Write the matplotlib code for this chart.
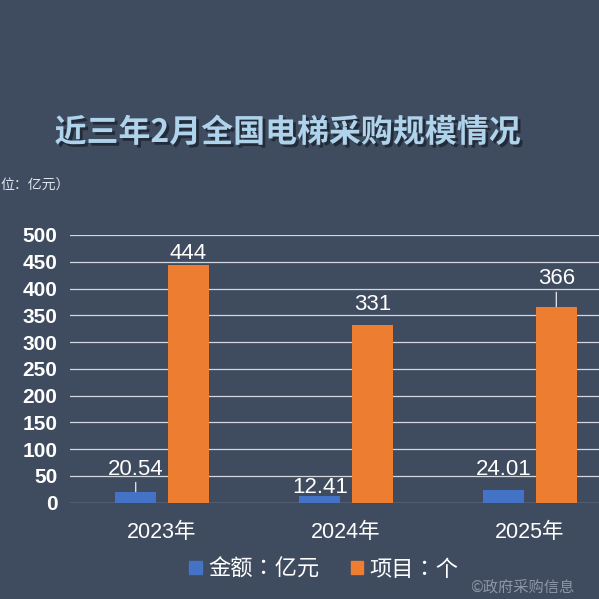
import matplotlib
matplotlib.use("Agg")
import matplotlib.pyplot as plt
import matplotlib.patheffects as pe
from matplotlib.patches import Patch
import numpy as np

plt.rcParams['font.family'] = ['Liberation Sans', 'Noto Sans CJK SC', 'DejaVu Sans']

# data
years = ['2023年', '2024年', '2025年']
amount = [20.54, 12.41, 24.01]      # 金额：亿元
projects = [444, 331, 366]          # 项目：个
amount_labels = ['20.54', '12.41', '24.01']
project_labels = ['444', '331', '366']
yticks = [0, 50, 100, 150, 200, 250, 300, 350, 400, 450, 500]

# label offsets above bar top (points) and whether a leader line is drawn
amount_off = [16.3, 6.5, 14.5]
project_off = [8, 15, 20]
amount_leader = [True, False, False]
project_leader = [False, False, True]

BG = '#3f4b5e'
BLUE = '#4472c4'
ORANGE = '#ed7d31'

fig = plt.figure(figsize=(5.99, 5.99), dpi=100, facecolor=BG)
ax = fig.add_axes([70 / 599, 1 - 502.7 / 599, 1 - 70 / 599, 267.7 / 599])
ax.set_facecolor(BG)

x = np.arange(len(years))
w = 0.2255
off = 0.1427
ax.bar(x - off, amount, w, color=BLUE, zorder=3)
ax.bar(x + off, projects, w, color=ORANGE, zorder=3)

ax.set_xlim(-0.5, 2.375)
ax.set_ylim(0, 500)
ax.set_yticks(yticks)
ax.set_xticks(x)
ax.set_xticklabels(years)
ax.grid(axis='y', color='#d4d8de', lw=0.9, zorder=0)
ax.set_axisbelow(True)
for s in ax.spines.values():
    s.set_visible(False)
ax.tick_params(axis='both', length=0, colors='white', labelsize=15)
ax.tick_params(axis='y', pad=9)
ax.tick_params(axis='x', pad=14)
for t in ax.get_yticklabels():
    t.set_fontweight('bold')
for t in ax.get_xticklabels():
    t.set_fontsize(15.5)


def put_label(xp, val, txt, dy, leader):
    kw = dict(xy=(xp, val), xytext=(0, dy), textcoords='offset points',
              ha='center', va='center', color='white', fontsize=16, zorder=5)
    if leader:
        kw['arrowprops'] = dict(arrowstyle='-', color='white', lw=0.8,
                                shrinkA=0, shrinkB=0)
    ax.annotate(txt, **kw)


for i in range(len(years)):
    put_label(x[i] - off, amount[i], amount_labels[i], amount_off[i], amount_leader[i])
    put_label(x[i] + off, projects[i], project_labels[i], project_off[i], project_leader[i])

# title with drop shadow
fig.text(288 / 599, 1 - 133 / 599, '近三年2月全国电梯采购规模情况',
         ha='center', va='center', fontsize=23, fontweight='bold',
         color='#aed3ea', family=['Noto Sans CJK SC', 'DejaVu Sans'],
         path_effects=[pe.SimplePatchShadow(offset=(2, -2), shadow_rgbFace='#1c2330', alpha=0.8),
                       pe.Normal()])

fig.text(0, 1 - 186 / 599, '位：亿元）', ha='left', va='center',
         fontsize=10, color='#dde6ef', family=['Noto Sans CJK SC', 'DejaVu Sans'])

handles = [Patch(color=BLUE, label='金额：亿元'), Patch(color=ORANGE, label='项目：个')]
fig.legend(handles=handles, loc='center', bbox_to_anchor=(324 / 599, 1 - 569 / 599),
           ncol=2, frameon=False, labelcolor='white',
           handlelength=0.55, handleheight=0.55, handletextpad=0.3,
           columnspacing=1.4,
           prop={'family': ['Noto Sans CJK TC', 'DejaVu Sans'], 'size': 16, 'weight': 'medium'})

# watermark
fig.text(470 / 599, 1 - 588 / 599, '©政府采购信息', ha='left', va='center',
         fontsize=11, color='#8d96a6', family=['Noto Sans CJK SC', 'DejaVu Sans'])

fig.savefig('out.png', dpi=100, facecolor=BG)
